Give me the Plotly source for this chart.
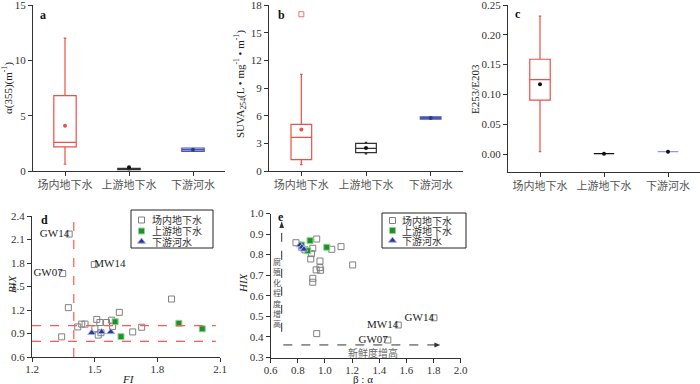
import plotly.graph_objects as go

W, H = 700, 384
FONT = "Liberation Serif, Noto Sans CJK SC, serif"

groups = ["场内地下水", "上游地下水", "下游河水"]

# panel a: a(355) box statistics per group
a_low = [0.61, 0.10, 1.78]
a_q1 = [2.18, 0.13, 1.78]
a_med = [2.58, 0.19, 1.93]
a_q3 = [6.82, 0.25, 2.08]
a_high = [12.0, 0.30, 2.08]
a_mean = [4.10, 0.33, 1.92]

# panel b: SUVA254
b_low = [0.69, 1.85, 5.63]
b_q1 = [1.24, 2.00, 5.63]
b_med = [3.64, 2.45, 5.75]
b_q3 = [5.05, 3.00, 5.88]
b_high = [10.47, 3.10, 5.88]
b_mean = [4.50, 2.50, 5.75]
b_outlier = [17.0]

# panel c: E253/E203
c_low = [0.004, 0.0008, 0.004]
c_q1 = [0.0906, 0.0008, 0.004]
c_med = [0.125, 0.0008, 0.004]
c_q3 = [0.159, 0.0008, 0.004]
c_high = [0.2315, 0.0008, 0.004]
c_mean = [0.117, 0.0008, 0.004]

# panel d: FI vs BIX (first three points are the labelled wells)
fi_site = [1.378, 1.347, 1.498, 1.374, 1.342, 1.419, 1.438, 1.454, 1.501, 1.510,
           1.525, 1.517, 1.530, 1.557, 1.581, 1.586, 1.618, 1.682, 1.725, 1.868]
bix_site = [2.17, 1.665, 1.78, 1.23, 0.857, 0.984, 1.02, 1.02, 0.96, 1.08,
            1.04, 0.88, 0.91, 1.04, 1.07, 0.99, 1.17, 0.92, 0.98, 1.34]
d_labels = ["GW14", "GW07", "MW14"]
d_labelpos = ["middle left", "middle left", "middle right"]
fi_up = [1.598, 1.626, 1.903, 2.015]
bix_up = [1.05, 0.86, 1.03, 0.96]
fi_down = [1.486, 1.533, 1.577]
bix_down = [0.91, 0.92, 0.92]
fi_line = 1.4
bix_lines = [1.0, 0.8]

# panel e: beta:alpha vs HIX (first three points are the labelled wells)
ba_site = [1.803, 1.463, 1.540, 0.786, 0.939, 0.828, 0.853, 0.910, 0.895, 0.963,
           0.935, 0.963, 0.968, 0.910, 0.910, 1.050, 1.118, 1.204, 0.900, 0.939]
hix_site = [0.493, 0.385, 0.458, 0.858, 0.876, 0.836, 0.823, 0.831, 0.779, 0.769,
            0.726, 0.737, 0.724, 0.685, 0.666, 0.826, 0.839, 0.750, 0.805, 0.416]
e_labels = ["GW14", "GW07", "MW14"]
ba_up = [0.890, 0.828, 0.873, 1.013]
hix_up = [0.868, 0.847, 0.819, 0.836]
ba_down = [0.816, 0.830, 0.845]
hix_down = [0.847, 0.836, 0.826]

box_line = ["#ea5148", "#333333", "#4a56b8"]
box_fill = ["rgba(0,0,0,0)", "rgba(0,0,0,0)", "#c9cef3"]
c_line = ["#ea5148", "#111111", "#8f98e0"]
red_dash = "#ff5a55"

site_marker = dict(symbol="square-open", size=6, color="#808080", line=dict(width=1))
up_marker = dict(symbol="square", size=6, color="#1f8f2f", line=dict(width=1, color="#8fd68f"))
down_marker = dict(symbol="triangle-up", size=7, color="#2b3990", line=dict(width=1, color="#a3acec"))


def px_x(px):
    return px / W


def px_y(py):
    return 1 - py / H


fig = go.Figure()


def add_boxes(ax, low, q1, med, q3, high, mean, lines, fills, mean_colors, width):
    for i in range(3):
        fig.add_trace(go.Box(
            x=[i + 1], lowerfence=[low[i]], q1=[q1[i]], median=[med[i]],
            q3=[q3[i]], upperfence=[high[i]], width=width, whiskerwidth=0.12,
            line=dict(color=lines[i], width=1.2), fillcolor=fills[i],
            boxpoints=False, showlegend=False, xaxis="x" + ax, yaxis="y" + ax,
        ))
    fig.add_trace(go.Scatter(
        x=[1, 2, 3], y=mean, mode="markers", showlegend=False,
        marker=dict(size=4, color=mean_colors), xaxis="x" + ax, yaxis="y" + ax,
    ))


add_boxes("", a_low, a_q1, a_med, a_q3, a_high, a_mean, box_line, box_fill,
          ["#ea5148", "#111111", "#2b3990"], 0.35)
add_boxes("2", b_low, b_q1, b_med, b_q3, b_high, b_mean, box_line, box_fill,
          ["#ea5148", "#111111", "#2b3990"], 0.32)
fig.add_trace(go.Scatter(
    x=[1] * len(b_outlier), y=b_outlier, mode="markers", showlegend=False,
    marker=dict(symbol="square-open", size=5, color="#f07070"), xaxis="x2", yaxis="y2",
))
add_boxes("3", c_low, c_q1, c_med, c_q3, c_high, c_mean, c_line,
          ["rgba(0,0,0,0)"] * 3, ["#111111", "#111111", "#111111"], 0.32)

# scatter panels
lab_font = dict(family=FONT, size=11, color="#222")
fig.add_trace(go.Scatter(x=fi_site, y=bix_site, mode="markers", marker=site_marker,
                         showlegend=False, xaxis="x4", yaxis="y4"))
fig.add_trace(go.Scatter(x=fi_site[:3], y=bix_site[:3], mode="text", text=d_labels,
                         textposition=d_labelpos, textfont=lab_font,
                         showlegend=False, xaxis="x4", yaxis="y4"))
fig.add_trace(go.Scatter(x=fi_up, y=bix_up, mode="markers", marker=up_marker,
                         showlegend=False, xaxis="x4", yaxis="y4"))
fig.add_trace(go.Scatter(x=fi_down, y=bix_down, mode="markers", marker=down_marker,
                         showlegend=False, xaxis="x4", yaxis="y4"))

fig.add_trace(go.Scatter(x=ba_site, y=hix_site, mode="markers", marker=site_marker,
                         showlegend=False, xaxis="x5", yaxis="y5"))
fig.add_trace(go.Scatter(x=ba_site[:3], y=hix_site[:3], mode="text", text=e_labels,
                         textposition="middle left", textfont=lab_font,
                         showlegend=False, xaxis="x5", yaxis="y5"))
fig.add_trace(go.Scatter(x=ba_up, y=hix_up, mode="markers", marker=up_marker,
                         showlegend=False, xaxis="x5", yaxis="y5"))
fig.add_trace(go.Scatter(x=ba_down, y=hix_down, mode="markers", marker=down_marker,
                         showlegend=False, xaxis="x5", yaxis="y5"))

shapes = []
annotations = []


def note(text, px, py, size=11, color="#222", angle=0, xanchor="center", yanchor="middle"):
    annotations.append(dict(x=px_x(px), y=px_y(py), xref="paper", yref="paper", text=text,
                            textangle=angle, showarrow=False, xanchor=xanchor, yanchor=yanchor,
                            font=dict(family=FONT, size=size, color=color)))


# hand-made legends, drawn on a hidden pixel-space axis
for (lx0, ly0, lx1, ly1, mx, tx, rows) in [(131, 210, 213, 248, 141.5, 150, [220, 231, 241.5]),
                                           (382, 213, 466, 248, 392.5, 400, [220.5, 230.5, 240.5])]:
    shapes.append(dict(type="rect", xref="paper", yref="paper", x0=px_x(lx0), x1=px_x(lx1),
                       y0=px_y(ly1), y1=px_y(ly0), line=dict(color="#222", width=1)))
    for name, mk, ry in zip(groups, [site_marker, up_marker, down_marker], rows):
        fig.add_trace(go.Scatter(x=[mx], y=[ry], mode="markers", marker=mk,
                                 showlegend=False, xaxis="x6", yaxis="y6", hoverinfo="skip"))
        note(name, tx, ry, size=10, color="#333", xanchor="left")

# threshold lines in d
shapes.append(dict(type="line", xref="x4", yref="y4", x0=fi_line, x1=fi_line, y0=0.6, y1=2.4,
                   line=dict(color=red_dash, width=1.2, dash="dash")))
for b in bix_lines:
    shapes.append(dict(type="line", xref="x4", yref="y4", x0=1.2, x1=2.08, y0=b, y1=b,
                       line=dict(color=red_dash, width=1.2, dash="dash")))

# dashed arrows in e
arrow = dict(color="#333", width=1, dash="dash")
shapes.append(dict(type="line", xref="x5", yref="y5", x0=0.681, x1=0.681, y0=0.425, y1=0.935,
                   line=arrow))
shapes.append(dict(type="line", xref="x5", yref="y5", x0=0.693, x1=1.81, y0=0.361, y1=0.361,
                   line=arrow))
shapes.append(dict(type="path", xref="x5", yref="y5", fillcolor="#333", line=dict(width=0),
                   path="M 0.681,0.962 L 0.664,0.93 L 0.698,0.93 Z"))
shapes.append(dict(type="path", xref="x5", yref="y5", fillcolor="#333", line=dict(width=0),
                   path="M 1.85,0.361 L 1.806,0.349 L 1.806,0.373 Z"))
note("<br>".join("腐殖化程度增高"), 277, 255, size=8, color="#555", yanchor="top")
note("新鲜度增高", 373, 353, size=10, color="#666")

# panel letters
for letter, lx, ly in [("a", 43, 15), ("b", 281, 15), ("c", 518, 14), ("d", 45, 220), ("e", 281, 217)]:
    note("<b>%s</b>" % letter, lx, ly, size=12, color="#111")

# axis titles
for text, tx, ty, ang in [
    ("α(355)(m<sup>-1</sup>)", 8, 88, -90),
    ("SUVA<sub>254</sub>(L • mg<sup>-1</sup> • m<sup>-1</sup>)", 240, 84, -90),
    ("E253/E203", 475, 89, -90),
    ("<i>BIX</i>", 12, 284, -90),
    ("<i>HIX</i>", 243, 283, -90),
    ("<i>FI</i>", 128, 379, 0),
    ("β : α", 363, 379, 0),
]:
    note(text, tx, ty, angle=ang)

tick_font = dict(family=FONT, size=11, color="#333")
base = dict(showline=True, linecolor="#333", linewidth=1, ticks="outside", ticklen=4,
            tickcolor="#333", tickfont=tick_font, showgrid=False, zeroline=False,
            automargin=False, ticklabeloverflow="allow")
cat_axis = dict(base, range=[0.5, 3.5], tickvals=[1, 2, 3], ticktext=groups,
                tickfont=dict(family=FONT, size=11, color="#555"))

fig.update_layout(
    width=W, height=H, margin=dict(l=0, r=0, t=0, b=0),
    paper_bgcolor="white", plot_bgcolor="rgba(0,0,0,0)", template="none",
    font=dict(family=FONT), showlegend=False,
    xaxis=dict(cat_axis, domain=[px_x(33), px_x(225)], anchor="y"),
    yaxis=dict(base, domain=[px_y(171), px_y(5)], anchor="x", range=[0, 15], dtick=5),
    xaxis2=dict(cat_axis, domain=[px_x(269), px_x(463)], anchor="y2"),
    yaxis2=dict(base, domain=[px_y(171), px_y(5)], anchor="x2", range=[0, 18], dtick=3),
    xaxis3=dict(cat_axis, domain=[px_x(508), 1.0], anchor="y3"),
    yaxis3=dict(base, domain=[px_y(172), px_y(5)], anchor="x3", range=[-0.03, 0.25],
                tickvals=[0, 0.05, 0.1, 0.15, 0.2, 0.25], tickformat=".2f"),
    xaxis4=dict(base, domain=[px_x(32), px_x(220)], anchor="y4", range=[1.2, 2.1],
                dtick=0.3, tick0=1.2, tickformat=".1f", ticklabelstandoff=-2),
    yaxis4=dict(base, domain=[px_y(357), px_y(216)], anchor="x4", range=[0.6, 2.4],
                dtick=0.3, tick0=0.6, tickformat=".1f"),
    xaxis5=dict(base, domain=[px_x(270.7), px_x(460.7)], anchor="y5", range=[0.6, 2.0],
                dtick=0.2, tick0=0.6, tickformat=".1f", ticklabelstandoff=-2),
    yaxis5=dict(base, domain=[px_y(357.5), px_y(213.5)], anchor="x5", range=[0.3, 1.0],
                dtick=0.1, tick0=0.3, tickformat=".1f"),
    xaxis6=dict(domain=[0, 1], range=[0, W], visible=False, anchor="y6"),
    yaxis6=dict(domain=[0, 1], range=[H, 0], visible=False, anchor="x6"),
    shapes=shapes, annotations=annotations,
)

fig.write_html("out.html", config={"displayModeBar": False},
               post_script="document.body.style.margin='0';")
